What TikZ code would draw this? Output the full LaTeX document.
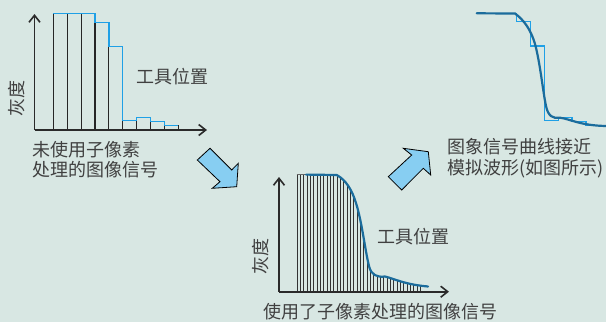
\documentclass[tikz,border=0pt]{standalone}
\usepackage{fontspec}
\setmainfont{Noto Sans CJK SC}
\usetikzlibrary{arrows.meta}
\definecolor{bg}{HTML}{D8E7E3}
\definecolor{txt}{HTML}{404040}
\definecolor{stepblue}{HTML}{1FA0E6}
\definecolor{curveblue}{HTML}{1B6C9C}
\definecolor{arrowfill}{HTML}{87CEF2}
\definecolor{axisc}{HTML}{2A2A2A}
\tikzset{
  lbl/.style={font=\fontsize{18}{20}\selectfont, text=txt, inner sep=0pt},
  axisline/.style={draw=axisc, line width=1.6pt, -{Straight Barb[length=7pt,width=11pt,line width=1.6pt]}},
  barline/.style={draw=black!85, line width=1pt},
  stepline/.style={draw=stepblue, line width=1.5pt, line join=miter},
  curve/.style={draw=curveblue, line width=2.2pt, line cap=round},
  bigarrow/.style={fill=arrowfill, draw=black, line width=0.8pt, line join=miter},
}
\begin{document}
\begin{tikzpicture}[x=1pt,y=-1pt]
\useasboundingbox (0,0) rectangle (606,322);
\fill[bg] (0,0) rectangle (606,322);

% ---------- left chart ----------
\coordinate (LO) at (34.5,130);
\coordinate (LY) at (34.5,14);
\coordinate (LX) at (207,130);
\foreach \l/\t in {53.3/13.3, 67.2/13.3, 81.1/13.3, 95/22.3, 108.8/46.7, 122.7/120.7, 136.6/117.3, 150.5/121.7, 164.3/125.7}
  \draw[barline] (\l,130) -- (\l,\t) -- (\l+13.88,\t) -- (\l+13.88,130);
\draw[stepline] (53.3,13.3) -- (95,13.3) -- (95,22.3) -- (108.8,22.3) -- (108.8,46.7) -- (122.7,46.7) -- (122.7,120.7) -- (136.6,120.7) -- (136.6,117.3) -- (150.5,117.3) -- (150.5,121.7) -- (164.3,121.7) -- (164.3,125.7) -- (178.2,125.7);
\draw[axisline] (LO) -- (LY);
\draw[axisline] (LO) -- (LX);
\node[lbl, rotate=90] (lgray) at (17,98) {灰度};
\node[lbl] (ltool) at (172,77) {工具位置};
\node[lbl, anchor=west] (lcap1) at (32.5,150) {未使用子像素};
\node[lbl, anchor=west] (lcap2) at (32.5,170) {处理的图像信号};

% ---------- arrows ----------
\draw[bigarrow] (197.3,160) -- (210,148.3) -- (231.7,170) -- (238.3,163.3) -- (236.7,186.7) -- (212.3,188.3) -- (220,181.7) -- cycle;
\draw[bigarrow] (388.3,176.7) -- (401.7,190) -- (423.3,168.3) -- (430.7,175) -- (428.3,151.7) -- (403.3,148.3) -- (411.7,155) -- cycle;

% ---------- middle chart ----------
\coordinate (MO) at (279,291.7);
\coordinate (MY) at (279,177);
\coordinate (MX) at (449,291.7);
\begin{scope}
  \clip (296.7,291.7) -- (296.7,174.6) -- (306,174.6) -- (336.7,175) .. controls (346,180) and (352,190) .. (356,203)
        .. controls (362,222) and (365,250) .. (369,266) .. controls (371,275) and (377,277.5) .. (385,276.5)
        .. controls (395,279) and (405,284.5) .. (421.7,285.5) -- (421.7,291.7) -- cycle;
  \foreach \i in {0,...,37}
    \draw[draw=black!80, line width=0.9pt] (297.2+\i*3.33,292) -- ++(0,-120);
\end{scope}
\draw[draw=black!60, line width=1pt] (296.7,174.6) -- (306,174.6);
\draw[curve] (306,174.6) -- (336.7,175) .. controls (346,180) and (352,190) .. (356,203)
        .. controls (362,222) and (365,250) .. (369,266) .. controls (371,275) and (377,277.5) .. (385,276.5)
        .. controls (395,279) and (405,284.5) .. (428,286.5);
\draw[axisline] (MO) -- (MY);
\draw[axisline] (MO) -- (MX);
\node[lbl, rotate=90] (mgray) at (260.5,256.7) {灰度};
\node[lbl] (mtool) at (413.5,237) {工具位置};
\node[lbl] (mcap) at (380,311.5) {使用了子像素处理的图像信号};

% ---------- right chart ----------
\draw[stepline] (476.7,13.3) -- (516.7,13.3) -- (516.7,21.7) -- (530.5,21.7) -- (530.5,46) -- (544.4,46) -- (544.4,120.7) -- (558.3,120.7) -- (558.3,117.3) -- (572.2,117.3) -- (572.2,121.7) -- (586,121.7) -- (586,125.7) -- (606,125.7);
\draw[curve] (476.7,13.3) -- (515,13.5) .. controls (524,20) and (531,30) .. (535,44)
        .. controls (540,62) and (543,92) .. (546,106) .. controls (548,116) and (553,119) .. (560,117.7)
        .. controls (570,119) and (580,125.5) .. (606,126);
\node[lbl, anchor=west] (rcap1) at (447.5,146.7) {图象信号曲线接近};
\node[lbl, anchor=west] (rcap2) at (447.5,168.3) {模拟波形(如图所示)};
\end{tikzpicture}
\end{document}
